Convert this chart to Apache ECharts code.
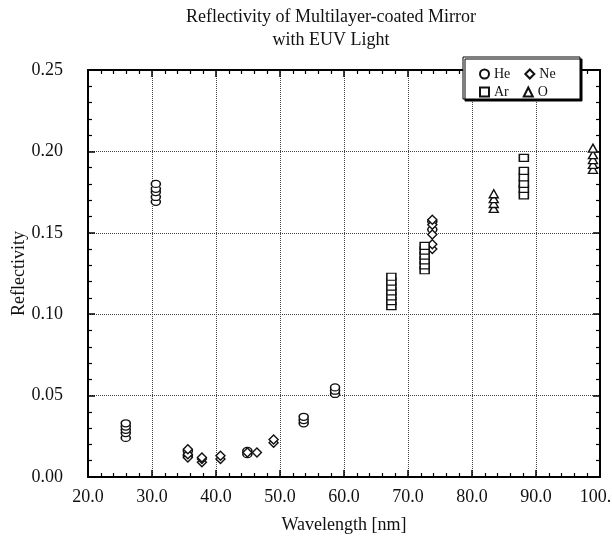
<!DOCTYPE html>
<html>
<head>
<meta charset="utf-8">
<script src="https://cdn.jsdelivr.net/npm/echarts@6/dist/echarts.min.js"></script>
<style>
html,body{margin:0;padding:0;background:#fff;}
#chart{width:612px;height:536px;}
</style>
</head>
<body>
<div id="chart"></div>
<script>
const xTickLabels = ['20.0','30.0','40.0','50.0','60.0','70.0','80.0','90.0','100.0'];
const yTickLabels = ['0.00','0.05','0.10','0.15','0.20','0.25'];

const heData = [
  [25.9,0.024],[25.9,0.027],[25.9,0.029],[25.9,0.031],[25.9,0.033],
  [30.6,0.169],[30.6,0.172],[30.6,0.175],[30.6,0.177],[30.6,0.180],
  [35.6,0.013],[35.6,0.016],
  [44.9,0.014],[44.9,0.016],
  [53.7,0.033],[53.7,0.035],[53.7,0.037],
  [58.6,0.051],[58.6,0.053],[58.6,0.055],
  [73.8,0.152],[73.8,0.157]
];
const neData = [
  [35.6,0.012],[35.6,0.014],[35.6,0.017],
  [37.8,0.009],[37.8,0.011],[37.8,0.012],
  [40.7,0.011],[40.7,0.013],
  [44.9,0.015],
  [46.4,0.015],
  [49.0,0.021],[49.0,0.023],
  [73.8,0.140],[73.8,0.143],[73.8,0.149],[73.8,0.155],[73.8,0.158]
];
const arData = [
  [67.4,0.105],[67.4,0.108],[67.4,0.111],[67.4,0.114],[67.4,0.117],[67.4,0.120],[67.4,0.123],
  [72.6,0.127],[72.6,0.130],[72.6,0.133],[72.6,0.136],[72.6,0.139],[72.6,0.142],
  [88.1,0.173],[88.1,0.177],[88.1,0.180],[88.1,0.184],[88.1,0.188],[88.1,0.196]
];
const oData = [
  [83.4,0.165],[83.4,0.168],[83.4,0.171],[83.4,0.174],
  [98.9,0.189],[98.9,0.192],[98.9,0.195],[98.9,0.198],[98.9,0.202]
];

const FONT = '"Liberation Serif", "DejaVu Serif", serif';
const chart = echarts.init(document.getElementById('chart'), null, {renderer:'canvas'});

const xLbl = v => xTickLabels[Math.round((v-20)/10)] || '';
const yLbl = v => yTickLabels[Math.round(v/0.05)] || '';

function mkSeries(name, data, symbol, size){
  return {
    name, type:'scatter', data, symbol, symbolSize:size,
    xAxisIndex:0, yAxisIndex:0,
    itemStyle:{color:'#fff', borderColor:'#111', borderWidth:1.4, opacity:1},
    emphasis:{disabled:true}, z:3
  };
}

const axisCommon = {
  axisLine:{show:true, onZero:false, lineStyle:{color:'#000', width:2}},
  axisTick:{show:true, inside:true, length:7, lineStyle:{color:'#000', width:1.5}},
  minorTick:{show:true, splitNumber:5, length:4, lineStyle:{color:'#000', width:1.2}},
};

chart.setOption({
  animation:false,
  backgroundColor:'#fff',
  title:{
    text:'Reflectivity of Multilayer-coated Mirror\nwith EUV Light',
    left:326, top:1, textAlign:'center',
    textStyle:{fontFamily:FONT, fontSize:18, fontWeight:'normal', color:'#111', lineHeight:23}
  },
  grid:{left:88, right:12, top:70, bottom:59, containLabel:false, outerBoundsMode:'none'},
  xAxis:[
    Object.assign({
      type:'value', min:20, max:100, interval:10, position:'bottom',
      name:'Wavelength [nm]', nameLocation:'middle', nameGap:39, nameMoveOverlap:false,
      nameTextStyle:{fontFamily:FONT, fontSize:18, color:'#111'},
      axisLabel:{formatter:xLbl, fontFamily:FONT, fontSize:18, color:'#111', margin:11, showMaxLabel:true},
      splitLine:{show:true, lineStyle:{type:'dotted', color:'#444', width:1}}
    }, axisCommon),
    Object.assign({
      type:'value', min:20, max:100, interval:10, position:'top',
      axisLabel:{show:false}, splitLine:{show:false}
    }, axisCommon)
  ],
  yAxis:[
    Object.assign({
      type:'value', min:0, max:0.25, interval:0.05, position:'left',
      name:'Reflectivity', nameLocation:'middle', nameGap:60, nameRotate:90, nameMoveOverlap:false,
      nameTextStyle:{fontFamily:FONT, fontSize:18, color:'#111'},
      axisLabel:{formatter:yLbl, fontFamily:FONT, fontSize:18, color:'#111', margin:25},
      splitLine:{show:true, lineStyle:{type:'dotted', color:'#444', width:1}}
    }, axisCommon),
    Object.assign({
      type:'value', min:0, max:0.25, interval:0.05, position:'right',
      axisLabel:{show:false}, splitLine:{show:false}
    }, axisCommon)
  ],
  graphic:[{
    type:'rect', z:20,
    shape:{x:463, y:57, width:117, height:42},
    style:{fill:'#fff', stroke:'#000', lineWidth:1, shadowColor:'#000', shadowOffsetX:2, shadowOffsetY:2, shadowBlur:0}
  }],
  legend:[
    {data:['He','Ne'], left:474, top:62, itemWidth:9, itemHeight:9, itemGap:14, z:30,
     textStyle:{fontFamily:FONT, fontSize:14, color:'#111', width:28}},
    {data:['Ar','O'], left:474, top:80, itemWidth:9, itemHeight:9, itemGap:14, z:30,
     textStyle:{fontFamily:FONT, fontSize:14, color:'#111', width:28}}
  ],
  series:[
    mkSeries('He', heData, 'circle', [9,7]),
    mkSeries('Ne', neData, 'diamond', [9,9]),
    mkSeries('Ar', arData, 'rect', [9,7]),
    mkSeries('O', oData, 'triangle', [9,8])
  ]
});
</script>
</body>
</html>
